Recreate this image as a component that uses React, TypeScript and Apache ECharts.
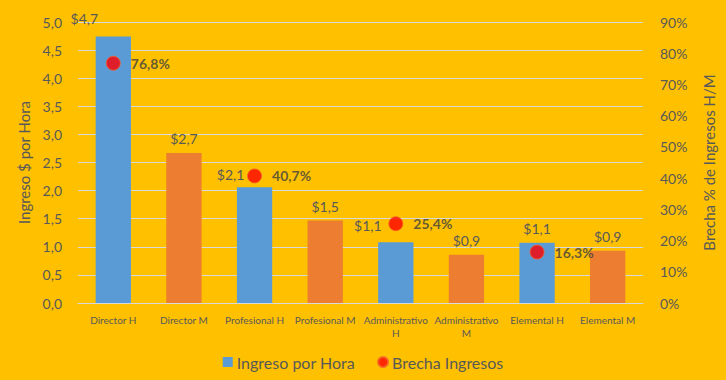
import React, { useEffect, useRef } from "react";
import * as echarts from "echarts";

const categories = [
  "Director H",
  "Director M",
  "Profesional H",
  "Profesional M",
  "Administrativo\nH",
  "Administrativo\nM",
  "Elemental H",
  "Elemental M",
];
const ingresoPorHora = [4.74, 2.67, 2.06, 1.47, 1.08, 0.86, 1.07, 0.93];
const brechaIngresos = [76.8, null, 40.7, null, 25.4, null, 16.3, null];
const leftTicks = { min: 0, max: 5, interval: 0.5 };
const rightTicks = { min: 0, max: 90, interval: 10 };

const BLUE = "#5B9BD5";
const ORANGE = "#ED7D31";
const TEXT = "#595959";
const FONT = "Lato, 'Open Sans', sans-serif";

// label offsets for the H bars whose labels sit left of the gap marker
const labelOffsets: Record<number, [number, number]> = {
  0: [-29, -4],
  2: [-24, 1],
  4: [-28, -3],
};

export default function App() {
  const ref = useRef<HTMLDivElement>(null);
  useEffect(() => {
    if (!ref.current) return;
    const chart = echarts.init(ref.current, null, { renderer: "svg" });
    const fmt1 = (v: number) => v.toFixed(1).replace(".", ",");
    chart.setOption({
      animation: false,
      backgroundColor: "#FFC000",
      textStyle: { fontFamily: FONT },
      grid: { left: 78, right: 83, top: 22, bottom: 77 },
      legend: {
        top: 349,
        left: "center",
        itemWidth: 10,
        itemHeight: 10,
        itemGap: 22,
        textStyle: { color: TEXT, fontSize: 16, fontFamily: FONT, padding: [0, 0, 0, -1] },
        data: [
          { name: "Ingreso por Hora", icon: "rect", itemStyle: { color: BLUE } },
          { name: "Brecha Ingresos", icon: "circle", itemStyle: { color: "#FF0000" } },
        ],
      },
      xAxis: {
        type: "category",
        data: categories,
        axisLine: { lineStyle: { color: "#D9D9D9" } },
        axisTick: { show: false },
        axisLabel: {
          interval: 0,
          color: TEXT,
          fontSize: 10,
          lineHeight: 13,
          margin: 10,
          fontFamily: FONT,
        },
      },
      yAxis: [
        {
          type: "value",
          ...leftTicks,
          name: "Ingreso $ por Hora",
          nameLocation: "middle",
          nameGap: 40,
          nameTextStyle: { color: TEXT, fontSize: 15, fontFamily: FONT },
          axisLine: { show: false },
          axisTick: { show: false },
          splitLine: { lineStyle: { color: "#D9D9D9" } },
          axisLabel: {
            color: TEXT,
            fontSize: 14,
            margin: 16,
            formatter: (v: number) => fmt1(v),
          },
        },
        {
          type: "value",
          ...rightTicks,
          name: "Brecha % de Ingresos H/M",
          nameLocation: "middle",
          nameGap: 58,
          nameRotate: 90,
          nameTextStyle: { color: TEXT, fontSize: 15, fontFamily: FONT },
          axisLine: { show: false },
          axisTick: { show: false },
          splitLine: { show: false },
          axisLabel: {
            color: TEXT,
            fontSize: 14,
            margin: 17,
            formatter: "{value}%",
          },
        },
      ],
      series: [
        {
          name: "Ingreso por Hora",
          type: "bar",
          yAxisIndex: 0,
          barWidth: "50%",
          itemStyle: { color: BLUE },
          label: {
            show: true,
            position: "top",
            distance: 7,
            color: TEXT,
            fontSize: 14,
            fontFamily: FONT,
            formatter: (p: any) => "$" + fmt1(p.value),
          },
          data: ingresoPorHora.map((v, i) => {
            const item: any = {
              value: v,
              itemStyle: { color: i % 2 === 0 ? BLUE : ORANGE },
            };
            if (labelOffsets[i]) item.label = { offset: labelOffsets[i] };
            return item;
          }),
        },
        {
          name: "Brecha Ingresos",
          type: "scatter",
          yAxisIndex: 1,
          symbol: "circle",
          symbolSize: 14,
          itemStyle: { color: "#FF0000", borderColor: "#F4602A", borderWidth: 1 },
          label: {
            show: true,
            position: "right",
            distance: 10,
            color: "#404040",
            fontSize: 14,
            fontWeight: "bold",
            fontFamily: FONT,
            formatter: (p: any) => fmt1(p.value) + "%",
          },
          data: brechaIngresos,
        },
      ],
    });
    return () => chart.dispose();
  }, []);
  return <div ref={ref} style={{ width: 726, height: 380, position: "absolute", left: 0, top: 0 }} />;
}
